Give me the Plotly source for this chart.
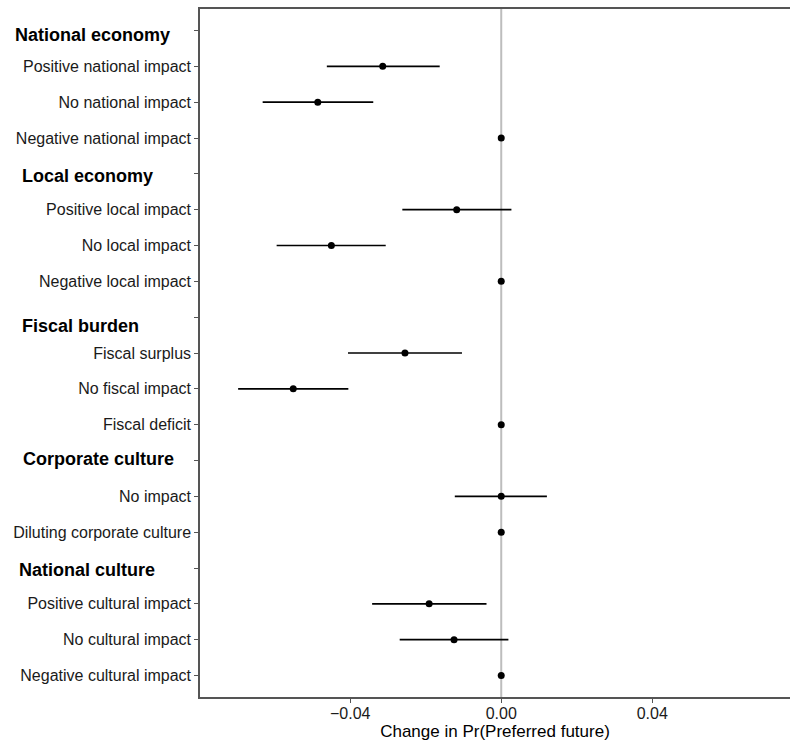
import plotly.graph_objects as go

# Rows from top to bottom; headers have no estimate
row_labels = [
    "National economy", "Positive national impact", "No national impact", "Negative national impact",
    "Local economy", "Positive local impact", "No local impact", "Negative local impact",
    "Fiscal burden", "Fiscal surplus", "No fiscal impact", "Fiscal deficit",
    "Corporate culture", "No impact", "Diluting corporate culture",
    "National culture", "Positive cultural impact", "No cultural impact", "Negative cultural impact",
]
is_header = [True, False, False, False,
             True, False, False, False,
             True, False, False, False,
             True, False, False,
             True, False, False, False]
estimate = [None, -0.0314, -0.0486, 0.0,
            None, -0.0118, -0.0450, 0.0,
            None, -0.0255, -0.0551, 0.0,
            None, 0.0, 0.0,
            None, -0.0191, -0.0125, 0.0]
ci_low = [None, -0.0462, -0.0632, 0.0,
          None, -0.0262, -0.0595, 0.0,
          None, -0.0406, -0.0697, 0.0,
          None, -0.0123, 0.0,
          None, -0.0342, -0.0269, 0.0]
ci_high = [None, -0.0163, -0.0339, 0.0,
           None, 0.0027, -0.0306, 0.0,
           None, -0.0104, -0.0405, 0.0,
           None, 0.0121, 0.0,
           None, -0.0039, 0.0019, 0.0]
x_ticks = [-0.04, 0.0, 0.04]
x_ticktext = ["\u22120.04", "0.00", "0.04"]
x_title = "Change in Pr(Preferred future)"

# header label placement tweaks (pixels)
header_xshift = {"National economy": -187, "Local economy": -180, "Fiscal burden": -180,
                 "Corporate culture": -179, "National culture": -183}
header_yshift = {"National economy": -4, "Local economy": -2, "Fiscal burden": -9,
                 "Corporate culture": 2, "National culture": -2}

ypos = list(range(len(row_labels)))
xs, ys, ep, em = [], [], [], []
for i, (e, lo, hi) in enumerate(zip(estimate, ci_low, ci_high)):
    if e is None:
        continue
    xs.append(e)
    ys.append(i)
    ep.append(hi - e)
    em.append(e - lo)

fig = go.Figure()
fig.add_trace(go.Scatter(
    x=xs, y=ys, mode="markers",
    marker=dict(color="black", size=7),
    error_x=dict(type="data", symmetric=False, array=ep, arrayminus=em,
                 color="black", thickness=1.6, width=0),
    showlegend=False,
))

fig.add_shape(type="line", x0=0, x1=0, xref="x", yref="paper", y0=0, y1=1,
              line=dict(color="#bdbdbd", width=2), layer="below")

for i, (lab, h) in enumerate(zip(row_labels, is_header)):
    if h:
        fig.add_annotation(text="<b>%s</b>" % lab, xref="paper", x=0, xanchor="left",
                           xshift=header_xshift[lab], yref="y", y=i, yanchor="middle",
                           yshift=header_yshift[lab], showarrow=False,
                           font=dict(family="Liberation Sans, Arial", size=18, color="black"))

ticktext = ["" if h else lab for lab, h in zip(row_labels, is_header)]

fig.update_layout(
    width=790, height=742,
    margin=dict(l=200, r=0, t=9, b=45),
    plot_bgcolor="white", paper_bgcolor="white",
    font=dict(family="Liberation Sans, Arial", size=16, color="#1a1a1a"),
    xaxis=dict(range=[-0.0798, 0.0765], tickvals=x_ticks, ticktext=x_ticktext,
               showgrid=False, zeroline=False, showline=True, linecolor="#555555",
               linewidth=1.5, mirror=True, ticks="outside", ticklen=4, tickcolor="#555555",
               ticklabelstandoff=-3,
               tickfont=dict(size=16, color="#1a1a1a"),
               title=dict(text=x_title, font=dict(size=17, color="black"), standoff=2)),
    yaxis=dict(range=[len(row_labels) - 0.4, -0.6], tickvals=ypos, ticktext=ticktext,
               showgrid=False, zeroline=False, showline=True, linecolor="#555555",
               linewidth=1.5, ticks="outside", ticklen=4, tickcolor="#555555",
               tickfont=dict(size=16, color="#1a1a1a")),
)

fig.write_html("out.html", config={"displayModeBar": False},
               post_script="document.body.style.margin='0';document.body.style.overflow='hidden';")
